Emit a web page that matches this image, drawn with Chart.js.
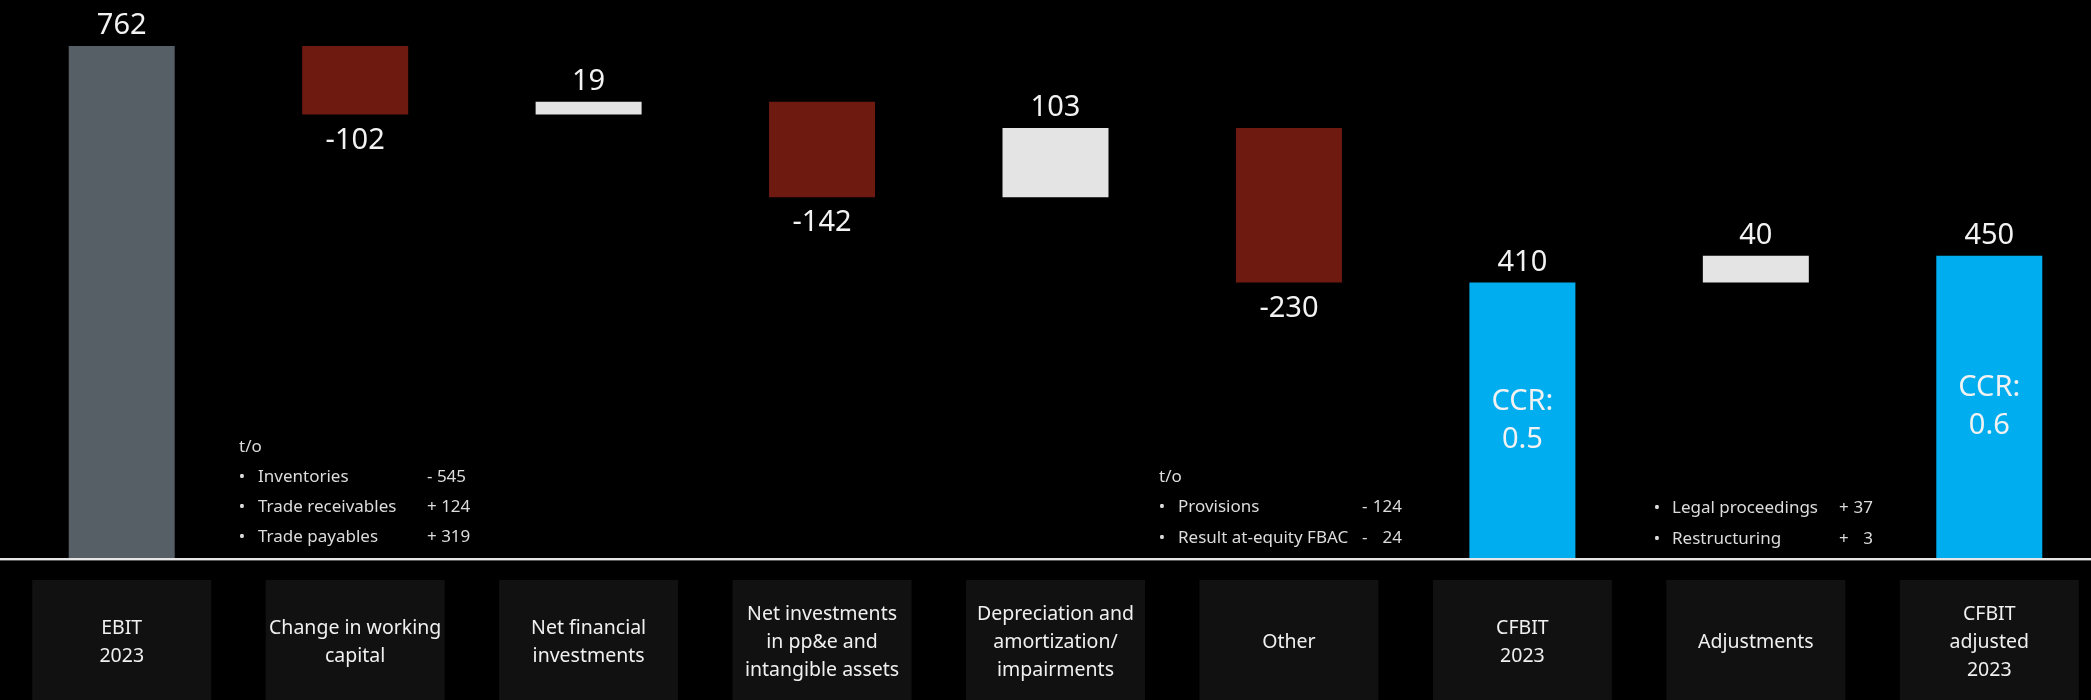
<!DOCTYPE html>
<html>
<head>
<meta charset="utf-8">
<script src="https://cdn.jsdelivr.net/npm/chart.js@4.4.1/dist/chart.umd.min.js"></script>
<style>
  html, body { margin: 0; padding: 0; background: #000; overflow: hidden; }
  #wrap { position: relative; width: 2106px; height: 700px; }
</style>
</head>
<body>
<div id="wrap"><canvas id="grafica"></canvas></div>
<script>
// datos del puente EBIT -> CFBIT (mio. EUR)
const categorias = [
  ['EBIT', '2023'],
  ['Change in working', 'capital'],
  ['Net financial', 'investments'],
  ['Net investments', 'in pp&e and', 'intangible assets'],
  ['Depreciation and', 'amortization/', 'impairments'],
  ['Other'],
  ['CFBIT', '2023'],
  ['Adjustments'],
  ['CFBIT', 'adjusted', '2023']
];
const valores = [762, -102, 19, -142, 103, -230, 410, 40, 450];
const tipos = ['total', 'delta', 'delta', 'delta', 'delta', 'delta', 'total', 'delta', 'total'];
const colores = ['#565e66', '#6f1a10', '#e4e4e4', '#6f1a10', '#e4e4e4', '#6f1a10', '#00aeef', '#e4e4e4', '#00aeef'];
const ccr = [null, null, null, null, null, null, '0.5', null, '0.6'];

// notas "t/o"
const notasCapital = [['Inventories', '- 545'], ['Trade receivables', '+ 124'], ['Trade payables', '+ 319']];
const notasOtros = [['Provisions', '-', '124'], ['Result at-equity FBAC', '-', '24']];
const notasAjustes = [['Legal proceedings', '+', '37'], ['Restructuring', '+', '3']];

// barras flotantes: [inicio, fin]
let acumulado = 0;
const barras = valores.map((v, i) => {
  if (tipos[i] === 'total') { acumulado = v; return [0, v]; }
  const ini = acumulado;
  acumulado += v;
  return [ini, acumulado];
});

const FUENTE = '"Noto Sans", sans-serif';

const dibujoExtra = {
  id: 'dibujoExtra',
  afterDraw(chart) {
    const { ctx, scales: { x, y } } = chart;
    const base = y.getPixelForValue(0);
    ctx.save();

    // línea base
    ctx.fillStyle = '#e6e6e6';
    ctx.fillRect(0, base, 2106, 2);
    ctx.fillStyle = '#5a5a5a';
    ctx.fillRect(0, base + 2, 2106, 1);

    // etiquetas de valor
    ctx.fillStyle = '#f2f2f2';
    ctx.font = '29px ' + FUENTE;
    ctx.textAlign = 'center';
    ctx.textBaseline = 'middle';
    valores.forEach((v, i) => {
      const cx = x.getPixelForValue(i);
      const [a, b] = barras[i];
      if (v >= 0) {
        ctx.fillText(String(v), cx, y.getPixelForValue(Math.max(a, b)) - 20);
      } else {
        ctx.fillText(String(v), cx, y.getPixelForValue(Math.min(a, b)) + 26);
      }
      if (ccr[i]) {
        const mid = (y.getPixelForValue(b) + base) / 2;
        ctx.fillText('CCR:', cx, mid - 19);
        ctx.fillText(ccr[i], cx, mid + 19);
      }
    });

    // cajas de categorías
    categorias.forEach((lineas, i) => {
      const cx = x.getPixelForValue(i);
      ctx.fillStyle = '#111111';
      ctx.fillRect(cx - 89.5, 580, 179, 130);
      ctx.fillStyle = '#f0f0f0';
      ctx.font = '19.5px ' + FUENTE;
      const y0 = 642 - (lineas.length - 1) * 14;
      lineas.forEach((t, k) => ctx.fillText(t, cx, y0 + k * 28));
    });

    // notas
    ctx.fillStyle = '#dcdcdc';
    ctx.font = '17px ' + FUENTE;
    ctx.textAlign = 'left';
    ctx.fillText('t/o', 239, 447);
    notasCapital.forEach(([t, n], k) => {
      const ty = 477 + k * 30;
      ctx.textAlign = 'center'; ctx.fillText('•', 242, ty);
      ctx.textAlign = 'left'; ctx.fillText(t, 258, ty);
      ctx.fillText(n, 427, ty);
    });

    ctx.fillText('t/o', 1159, 477);
    notasOtros.forEach(([t, s, n], k) => {
      const ty = 507 + k * 31;
      ctx.textAlign = 'center'; ctx.fillText('•', 1162, ty);
      ctx.textAlign = 'left'; ctx.fillText(t, 1178, ty);
      ctx.fillText(s, 1362, ty);
      ctx.textAlign = 'right'; ctx.fillText(n, 1402, ty);
    });

    notasAjustes.forEach(([t, s, n], k) => {
      const ty = 508 + k * 31;
      ctx.textAlign = 'center'; ctx.fillText('•', 1657, ty);
      ctx.textAlign = 'left'; ctx.fillText(t, 1672, ty);
      ctx.fillText(s, 1839, ty);
      ctx.textAlign = 'right'; ctx.fillText(n, 1873, ty);
    });

    ctx.restore();
  }
};

new Chart(document.getElementById('grafica'), {
  type: 'bar',
  data: {
    labels: categorias,
    datasets: [{
      data: barras,
      backgroundColor: colores,
      borderWidth: 0,
      borderSkipped: false,
      barPercentage: 0.454,
      categoryPercentage: 1
    }]
  },
  options: {
    responsive: true,
    maintainAspectRatio: false,
    animation: false,
    layout: { padding: { left: 5, right: 0, top: 0, bottom: 142 } },
    plugins: { legend: { display: false }, tooltip: { enabled: false } },
    scales: {
      x: { display: false, offset: true },
      y: { display: false, min: 0, max: 830.5 }
    }
  },
  plugins: [dibujoExtra]
});
</script>
</body>
</html>
